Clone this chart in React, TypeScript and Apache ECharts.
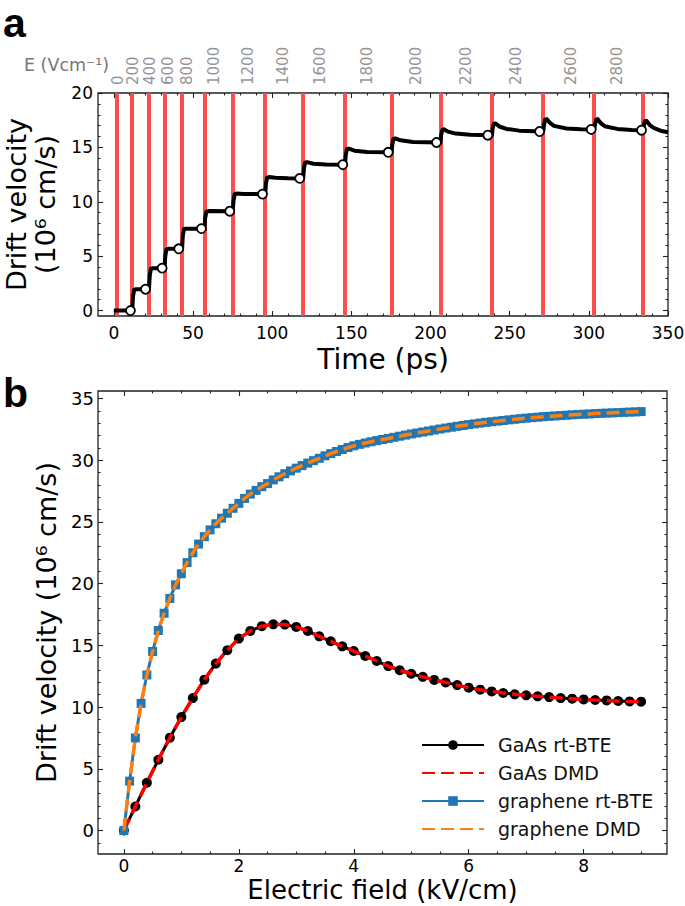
import React, { useEffect, useRef } from "react";
import * as echarts from "echarts";

// ---------- Panel a data ----------
const switchTimes = [2, 11.6, 22.2, 32, 43.1, 57.2, 75.1, 95.6, 119.6, 146, 175.4, 206.3, 238.8, 271.2, 303.4, 334.2];
const fieldLabels = ["0", "200", "400", "600", "800", "1000", "1200", "1400", "1600", "1800", "2000", "2200", "2400", "2600", "2800"];
const fieldLabelTimes = [2.9, 12.4, 23.1, 34.5, 46.5, 63.4, 85, 107.1, 130.5, 159.6, 190.6, 222.2, 253.8, 288.5, 317.6];
const steadyTimes = [10.5, 20, 30.5, 41, 55.3, 73.2, 93.9, 117.4, 144.6, 173.3, 203.8, 236.2, 268.9, 301.5, 333.3];
const steadyVelocity = [0, 1.96, 3.9, 5.68, 7.53, 9.13, 10.7, 12.15, 13.41, 14.55, 15.45, 16.12, 16.46, 16.65, 16.58];
const transientCurve = [
  [0, 0], [11.6, 0],
  [12.1, 1.3], [12.8, 1.9], [14, 1.96], [22.2, 1.96],
  [22.7, 3.2], [23.4, 3.85], [24.6, 3.9], [32, 3.9],
  [32.5, 5.0], [33.2, 5.62], [34.4, 5.68], [43.1, 5.68],
  [43.6, 6.9], [44.3, 7.48], [45.5, 7.53], [57.2, 7.53],
  [57.7, 8.5], [58.4, 9.08], [59.6, 9.15], [75.1, 9.13],
  [75.6, 10.1], [76.3, 10.68], [77.5, 10.76], [82, 10.72], [95.6, 10.7],
  [96.1, 11.7], [96.8, 12.22], [98, 12.27], [102, 12.2], [110, 12.16], [119.6, 12.15],
  [120.1, 13.1], [120.8, 13.6], [122, 13.65], [126, 13.5], [134, 13.43], [146, 13.41],
  [146.5, 14.3], [147.2, 14.85], [148.4, 14.89], [152, 14.7], [160, 14.58], [175.4, 14.55],
  [175.9, 15.3], [176.6, 15.78], [177.8, 15.82], [181, 15.65], [189, 15.5], [206.3, 15.45],
  [206.8, 16.2], [207.5, 16.6], [208.5, 16.67], [211, 16.45], [216, 16.27], [225, 16.16], [238.8, 16.12],
  [239.3, 16.8], [240, 17.15], [241, 17.2], [243.5, 16.92], [248, 16.7], [256, 16.54], [271.2, 16.46],
  [271.7, 17.1], [272.4, 17.55], [273.4, 17.6], [275.5, 17.25], [278, 16.98], [286, 16.74], [295, 16.67], [303.4, 16.65],
  [303.9, 17.1], [304.6, 17.55], [305.6, 17.6], [307.7, 17.2], [310, 16.95], [318, 16.7], [327, 16.6], [334.2, 16.58],
  [334.7, 17.0], [335.4, 17.4], [336.4, 17.44], [338.5, 17.05], [341, 16.8], [346, 16.5], [350, 16.4],
];

// ---------- Panel b data ----------
const fieldGaAs = [0, 0.2, 0.4, 0.6, 0.8, 1.0, 1.2, 1.4, 1.6, 1.8, 2.0, 2.2, 2.4, 2.6, 2.8, 3.0, 3.2, 3.4, 3.6, 3.8, 4.0, 4.2, 4.4, 4.6, 4.8, 5.0, 5.2, 5.4, 5.6, 5.8, 6.0, 6.2, 6.4, 6.6, 6.8, 7.0, 7.2, 7.4, 7.6, 7.8, 8.0, 8.2, 8.4, 8.6, 8.8, 9.0];
const gaasRtBte = [0, 1.95, 3.87, 5.73, 7.52, 9.19, 10.73, 12.22, 13.52, 14.6, 15.55, 16.17, 16.55, 16.7, 16.68, 16.49, 16.16, 15.73, 15.33, 14.92, 14.54, 14.14, 13.73, 13.32, 12.98, 12.7, 12.45, 12.2, 12.0, 11.78, 11.57, 11.41, 11.27, 11.14, 11.03, 10.95, 10.87, 10.81, 10.73, 10.68, 10.62, 10.57, 10.54, 10.49, 10.46, 10.44];
const gaasDmd = [0, 1.95, 3.87, 5.73, 7.52, 9.19, 10.73, 12.22, 13.52, 14.6, 15.55, 16.17, 16.55, 16.7, 16.68, 16.49, 16.16, 15.73, 15.33, 14.92, 14.54, 14.14, 13.73, 13.32, 12.98, 12.7, 12.45, 12.2, 12.0, 11.78, 11.57, 11.41, 11.27, 11.14, 11.03, 10.95, 10.87, 10.81, 10.73, 10.68, 10.62, 10.57, 10.54, 10.49, 10.46, 10.44];
const fieldGraphene = [
  0, 0.1, 0.2, 0.3, 0.4, 0.5, 0.6, 0.7, 0.8, 0.9,
  1.0, 1.1, 1.2, 1.3, 1.4, 1.5, 1.6, 1.7, 1.8, 1.9,
  2.0, 2.1, 2.2, 2.3, 2.4, 2.5, 2.6, 2.7, 2.8, 2.9,
  3.0, 3.1, 3.2, 3.3, 3.4, 3.5, 3.6, 3.7, 3.8, 3.9,
  4.0, 4.1, 4.2, 4.3, 4.4, 4.5, 4.6, 4.7, 4.8, 4.9,
  5.0, 5.1, 5.2, 5.3, 5.4, 5.5, 5.6, 5.7, 5.8, 5.9,
  6.0, 6.1, 6.2, 6.3, 6.4, 6.5, 6.6, 6.7, 6.8, 6.9,
  7.0, 7.1, 7.2, 7.3, 7.4, 7.5, 7.6, 7.7, 7.8, 7.9,
  8.0, 8.1, 8.2, 8.3, 8.4, 8.5, 8.6, 8.7, 8.8, 8.9, 9.0,
];
const grapheneRtBte = [
  0, 4.0, 7.5, 10.3, 12.6, 14.5, 16.2, 17.6, 18.8, 19.9,
  20.8, 21.7, 22.5, 23.2, 23.8, 24.35, 24.85, 25.3, 25.7, 26.1,
  26.5, 26.9, 27.25, 27.55, 27.85, 28.1, 28.4, 28.65, 28.9, 29.13,
  29.35, 29.56, 29.76, 29.96, 30.15, 30.35, 30.53, 30.7, 30.86, 31.02,
  31.16, 31.28, 31.39, 31.49, 31.58, 31.67, 31.76, 31.85, 31.94, 32.03,
  32.12, 32.2, 32.28, 32.36, 32.44, 32.52, 32.6, 32.67, 32.74, 32.81,
  32.88, 32.94, 33.0, 33.06, 33.11, 33.16, 33.21, 33.26, 33.31, 33.36,
  33.4, 33.44, 33.48, 33.52, 33.55, 33.58, 33.61, 33.64, 33.67, 33.7,
  33.72, 33.74, 33.77, 33.79, 33.81, 33.83, 33.85, 33.87, 33.89, 33.91, 33.93,
];
const grapheneDmd = grapheneRtBte.slice();

// ---------- Tick values ----------
const aXMajor = [0, 50, 100, 150, 200, 250, 300, 350];
const aYMajor = [0, 5, 10, 15, 20];
const bXMajor = [0, 2, 4, 6, 8];
const bYMajor = [0, 5, 10, 15, 20, 25, 30, 35];

const stepTicks = (from: number, to: number, step: number, majors: number[]) => {
  const out: number[] = [];
  const n = Math.round((to - from) / step);
  for (let i = 0; i <= n; i++) {
    const v = Math.round((from + i * step) * 1000) / 1000;
    if (!majors.some((m) => Math.abs(m - v) < 1e-6)) out.push(v);
  }
  return out;
};
const aXMinor = stepTicks(10, 340, 10, aXMajor);
const aYMinor = stepTicks(1, 19, 1, aYMajor);
const bXMinor = stepTicks(0.5, 9, 0.5, bXMajor);
const bYMinor = stepTicks(-1, 35, 1, bYMajor);

const FONT = "DejaVu Sans";
const TICK = "#222";

const mk = (gridIndex: number, position: string, min: number, max: number, ticks: number[], len: number, extra: any = {}) => ({
  type: "value",
  gridIndex,
  position,
  min,
  max,
  axisLine: { show: false, onZero: false },
  splitLine: { show: false },
  axisTick: { show: ticks.length > 0, inside: true, length: len, customValues: ticks, lineStyle: { color: TICK, width: 1.1 } },
  axisLabel: { show: false },
  ...extra,
});

const labelStyle = (values: number[], size: number, margin: number) => ({
  show: true,
  customValues: values,
  fontSize: size,
  fontFamily: FONT,
  color: "#000",
  margin,
  showMinLabel: true,
  showMaxLabel: true,
});

export default function App() {
  const ref = useRef<HTMLDivElement>(null);
  useEffect(() => {
    if (!ref.current) return;
    const chart = echarts.init(ref.current, undefined, { renderer: "svg" });
    const aX = [-10, 350];
    const aY = [-0.5, 20];
    const bX = [-0.45, 9.45];
    const bY = [-1.9, 35.6];

    const option: any = {
      animation: false,
      textStyle: { fontFamily: FONT },
      grid: [
        { left: 98, top: 93, width: 570, height: 223, show: true, borderColor: TICK, borderWidth: 1.3, containLabel: false, outerBoundsMode: "none" },
        { left: 98, top: 391, width: 569, height: 463, show: true, borderColor: TICK, borderWidth: 1.3, containLabel: false, outerBoundsMode: "none" },
      ],
      xAxis: [
        mk(0, "bottom", aX[0], aX[1], aXMajor, 5, {
          axisLabel: labelStyle(aXMajor, 17, 8),
          name: "Time (ps)",
          nameLocation: "middle",
          nameGap: 29,
          nameTextStyle: { fontSize: 28, fontFamily: FONT, color: "#000" },
        }),
        mk(0, "bottom", aX[0], aX[1], aXMinor, 2.5),
        mk(0, "top", aX[0], aX[1], aXMajor, 5),
        mk(0, "top", aX[0], aX[1], aXMinor, 2.5),
        mk(1, "bottom", bX[0], bX[1], bXMajor, 5, {
          axisLabel: labelStyle(bXMajor, 17, 3),
          name: "Electric field (kV/cm)",
          nameLocation: "middle",
          nameGap: 23,
          nameMoveOverlap: false,
          nameTextStyle: { fontSize: 26, fontFamily: FONT, color: "#000", lineHeight: 26 },
        }),
        mk(1, "bottom", bX[0], bX[1], bXMinor, 2.5),
        mk(1, "top", bX[0], bX[1], bXMajor, 5),
        mk(1, "top", bX[0], bX[1], bXMinor, 2.5),
      ],
      yAxis: [
        mk(0, "left", aY[0], aY[1], aYMajor, 5, {
          axisLabel: labelStyle(aYMajor, 17, 5),
          name: "Drift velocity\n(10⁶ cm/s)",
          nameLocation: "middle",
          nameRotate: 90,
          nameGap: 28,
          nameTextStyle: { fontSize: 27, fontFamily: FONT, color: "#000", lineHeight: 29 },
        }),
        mk(0, "left", aY[0], aY[1], aYMinor, 2.5),
        mk(0, "right", aY[0], aY[1], aYMajor, 5),
        mk(0, "right", aY[0], aY[1], aYMinor, 2.5),
        mk(1, "left", bY[0], bY[1], bYMajor, 5, {
          axisLabel: labelStyle(bYMajor, 18, 4),
          name: "Drift velocity (10⁶ cm/s)",
          nameLocation: "middle",
          nameRotate: 90,
          nameGap: 35,
          nameTextStyle: { fontSize: 27, fontFamily: FONT, color: "#000" },
        }),
        mk(1, "left", bY[0], bY[1], bYMinor, 2.5),
        mk(1, "right", bY[0], bY[1], bYMajor, 5),
        mk(1, "right", bY[0], bY[1], bYMinor, 2.5),
      ],
      legend: {
        data: [
          { name: "GaAs rt-BTE" },
          { name: "GaAs DMD", itemStyle: { opacity: 0 } },
          { name: "graphene rt-BTE" },
          { name: "graphene DMD", itemStyle: { opacity: 0 } },
        ],
        orient: "vertical",
        left: 416,
        top: 730,
        itemWidth: 62,
        itemHeight: 12,
        itemGap: 8,
        selectedMode: false,
        textStyle: { fontSize: 19, fontFamily: FONT, color: "#111", padding: [0, 0, 0, 9], lineHeight: 20 },
      },
      graphic: [
        { type: "text", left: 3, top: 2, style: { text: "a", font: 'bold 41px "Liberation Sans"', fill: "#000" } },
        { type: "text", left: 3, top: 372, style: { text: "b", font: 'bold 41px "Liberation Sans"', fill: "#000" } },
        { type: "text", left: 24, top: 56, style: { text: "E (Vcm⁻¹)", font: '17.5px "DejaVu Sans"', fill: "#777" } },
      ],
      series: [
        {
          type: "line",
          xAxisIndex: 0,
          yAxisIndex: 0,
          data: [],
          z: 1,
          silent: true,
          markLine: {
            z: 1,
            silent: true,
            symbol: ["none", "none"],
            label: { show: false },
            emphasis: { disabled: true },
            lineStyle: { color: "#ff4d4d", width: 4, type: "solid" },
            data: switchTimes.map((t) => ({ xAxis: t })),
          },
        },
        {
          type: "line",
          xAxisIndex: 0,
          yAxisIndex: 0,
          data: transientCurve,
          showSymbol: false,
          z: 10,
          lineStyle: { color: "#000", width: 4, join: "round" },
        },
        {
          type: "scatter",
          xAxisIndex: 0,
          yAxisIndex: 0,
          data: steadyTimes.map((t, i) => [t, steadyVelocity[i]]),
          symbol: "circle",
          symbolSize: 9,
          z: 11,
          itemStyle: { color: "#fff", borderColor: "#000", borderWidth: 1.8, opacity: 1 },
        },
        {
          type: "scatter",
          xAxisIndex: 0,
          yAxisIndex: 0,
          data: fieldLabelTimes.map((t) => [t, aY[1]]),
          symbol: "circle",
          symbolSize: 1,
          clip: false,
          silent: true,
          z: 12,
          itemStyle: { color: "transparent" },
          labelLayout: { hideOverlap: false },
          label: {
            show: true,
            position: "top",
            distance: 7.5,
            rotate: 90,
            align: "left",
            verticalAlign: "middle",
            color: "#777",
            fontSize: 15,
            fontFamily: FONT,
            formatter: (p: any) => fieldLabels[p.dataIndex],
          },
        },
        {
          name: "GaAs rt-BTE",
          type: "line",
          xAxisIndex: 4,
          yAxisIndex: 4,
          data: fieldGaAs.map((e, i) => [e, gaasRtBte[i]]),
          symbol: "circle",
          symbolSize: 10,
          showAllSymbol: true,
          z: 2,
          itemStyle: { color: "#000" },
          lineStyle: { color: "#000", width: 3 },
        },
        {
          name: "GaAs DMD",
          type: "line",
          xAxisIndex: 4,
          yAxisIndex: 4,
          data: fieldGaAs.map((e, i) => [e, gaasDmd[i]]),
          symbol: "none",
          z: 3,
          itemStyle: { color: "#ff0000" },
          lineStyle: { color: "#ff0000", width: 3.5, type: [13, 6] },
        },
        {
          name: "graphene rt-BTE",
          type: "line",
          xAxisIndex: 4,
          yAxisIndex: 4,
          data: fieldGraphene.map((e, i) => [e, grapheneRtBte[i]]),
          symbol: "rect",
          symbolSize: 9,
          showAllSymbol: true,
          z: 4,
          itemStyle: { color: "#1f77b4" },
          lineStyle: { color: "#1f77b4", width: 3 },
        },
        {
          name: "graphene DMD",
          type: "line",
          xAxisIndex: 4,
          yAxisIndex: 4,
          data: fieldGraphene.map((e, i) => [e, grapheneDmd[i]]),
          symbol: "none",
          z: 5,
          itemStyle: { color: "#ff7f0e" },
          lineStyle: { color: "#ff7f0e", width: 3.5, type: [13, 6] },
        },
      ],
    };
    chart.setOption(option);
    return () => chart.dispose();
  }, []);
  return (
    <div
      ref={ref}
      style={{ position: "fixed", left: 0, top: 0, width: 685, height: 906, background: "#fff" }}
    />
  );
}
